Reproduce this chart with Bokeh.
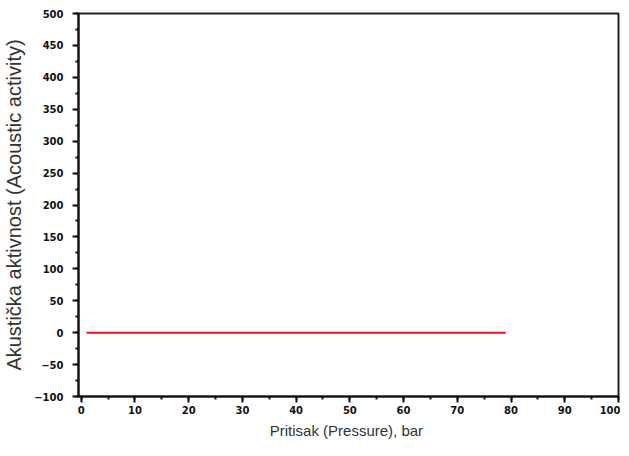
from bokeh.plotting import figure
from bokeh.models import Range1d, SingleIntervalTicker
from bokeh.embed import file_html
from bokeh.resources import INLINE

# data
pressure = [1, 79]
activity = [0, 0]

p = figure(frame_width=540, frame_height=383, output_backend="svg", toolbar_location=None,
           x_range=Range1d(-0.5, 100), y_range=Range1d(-100, 500),
           min_border_left=71, min_border_right=2, min_border_top=13, min_border_bottom=30)
p.grid.visible = False
p.outline_line_color = "#222222"
p.outline_line_width = 2
p.background_fill_color = "white"

p.line(pressure, activity, line_color="#ee1111", line_width=2)

p.xaxis.ticker = SingleIntervalTicker(interval=10, num_minor_ticks=2)
p.yaxis.ticker = SingleIntervalTicker(interval=50, num_minor_ticks=2)
for ax in (p.xaxis[0], p.yaxis[0]):
    ax.axis_line_width = 2
    ax.axis_line_color = "#111111"
    ax.major_tick_line_width = 2
    ax.minor_tick_line_width = 2
    ax.major_tick_line_color = "#111111"
    ax.minor_tick_line_color = "#111111"
    ax.major_tick_out = 6
    ax.major_tick_in = 0
    ax.minor_tick_out = 3
    ax.minor_tick_in = 0
    ax.major_label_text_font = "DejaVu Sans"
    ax.major_label_text_font_style = "bold"
    ax.major_label_text_font_size = "10px"
    ax.major_label_text_color = "#111111"
    ax.axis_label_text_font = "Liberation Sans"
    ax.axis_label_text_font_style = "normal"
    ax.axis_label_text_color = "#333333"

p.xaxis.axis_label = "Pritisak (Pressure),  bar"
p.yaxis.axis_label = "Akustička aktivnost (Acoustic activity)"
p.xaxis.axis_label_text_font_size = "15px"
p.yaxis.axis_label_text_font_size = "20px"
p.xaxis.major_label_standoff = 3
p.yaxis.major_label_standoff = 9
p.xaxis.axis_label_standoff = 5
p.yaxis.axis_label_standoff = 6

open("out.html", "w").write(file_html(p, INLINE))
